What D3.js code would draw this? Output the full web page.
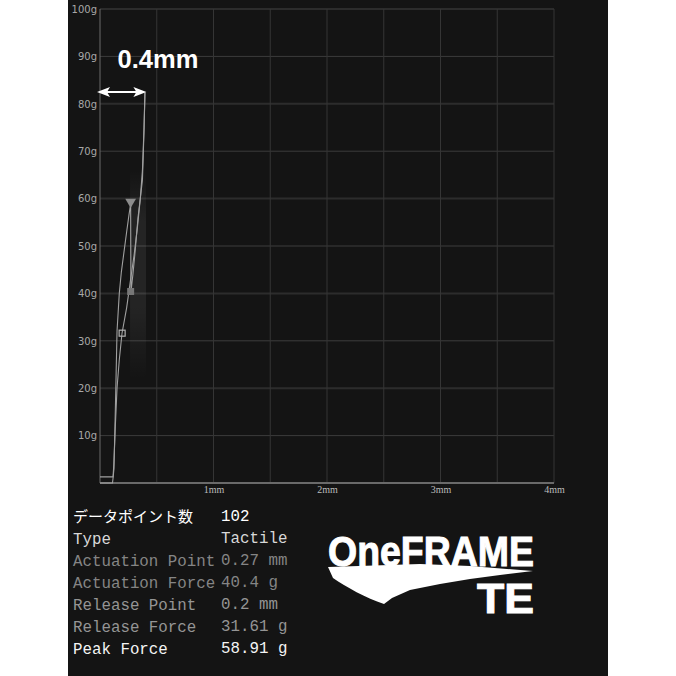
<!DOCTYPE html>
<html><head><meta charset="utf-8">
<script src="https://cdn.jsdelivr.net/npm/d3@7"></script>
<style>html,body{margin:0;padding:0;background:#fff;}svg{display:block;}</style>
</head><body>
<svg id="c" width="676" height="676"></svg>
<script>
// ---- data ----
const yTicks = [10,20,30,40,50,60,70,80,90,100];
const xTicks = [1,2,3,4];
const xGrid = [0,0.5,1,1.5,2,2.5,3,3.5,4];
const pressX = [0, 0.05, 0.11, 0.115, 0.123, 0.132, 0.141, 0.150, 0.170, 0.188, 0.21, 0.235, 0.255, 0.270, 0.271, 0.273, 0.29, 0.31, 0.335, 0.355, 0.374, 0.388, 0.396];
const pressY = [0, 0, 0, 1, 3, 12, 21.8, 32, 40, 44.5, 48.5, 53, 56.5, 58.9, 50, 40.4, 44, 49, 56, 60, 64, 74.5, 82.4];
const releaseX = [0.396, 0.388, 0.374, 0.355, 0.33, 0.30, 0.27, 0.235, 0.194, 0.17, 0.15, 0.135, 0.122, 0.115, 0.05, 0];
const releaseY = [82.4, 75, 66, 60, 54, 48, 43, 37, 31.6, 26, 20, 12, 4, 1.3, 1.3, 1.3];
const peak = {x: 0.27, y: 58.91};
const actuation = {x: 0.27, y: 40.4};
const release = {x: 0.195, y: 31.61};
const travelLabel = "0.4mm";
const travel = 0.4;
const rowLabels = ["データポイント数","Type","Actuation Point","Actuation Force","Release Point","Release Force","Peak Force"];
const rowValues = ["102","Tactile","0.27 mm","40.4 g","0.2 mm","31.61 g","58.91 g"];
const rowColors = ["#ffffff","#d8d8d8","#858585","#858585","#959595","#959595","#f4f4f4"];

// ---- drawing ----
const svg = d3.select("#c");
svg.append("rect").attr("x",68).attr("y",0).attr("width",540).attr("height",676).attr("fill","#141414");

const x = d3.scaleLinear().domain([0,4]).range([100,554]);
const y = d3.scaleLinear().domain([0,100]).range([483,9]);

const defs = svg.append("defs");
const grad = defs.append("linearGradient").attr("id","band").attr("x1",0).attr("y1",0).attr("x2",0).attr("y2",1);
grad.append("stop").attr("offset","0%").attr("stop-color","#fff").attr("stop-opacity",0.0);
grad.append("stop").attr("offset","25%").attr("stop-color","#fff").attr("stop-opacity",0.07);
grad.append("stop").attr("offset","65%").attr("stop-color","#fff").attr("stop-opacity",0.07);
grad.append("stop").attr("offset","100%").attr("stop-color","#fff").attr("stop-opacity",0.0);

// grid
const g = svg.append("g");
g.selectAll("line.h").data(yTicks).join("line")
  .attr("x1",x(0)).attr("x2",x(4)).attr("y1",d=>y(d)).attr("y2",d=>y(d))
  .attr("stroke",d=> d%20===0 ? "#2c2c2c" : "#3c3c3c")
  .attr("stroke-width",d=> d%20===0 ? 2 : 1);
g.selectAll("line.v").data(xGrid).join("line")
  .attr("x1",d=>x(d)).attr("x2",d=>x(d)).attr("y1",y(0)).attr("y2",y(100))
  .attr("stroke",d=> d===0 ? "#6a6a6a" : "#353535").attr("stroke-width",1);
g.append("line").attr("x1",x(0)).attr("x2",x(4)).attr("y1",y(0)).attr("y2",y(0))
  .attr("stroke","#6a6a6a").attr("stroke-width",2);

// y labels
svg.append("g").attr("transform",`translate(${x(0)-3},0)`)
  .call(d3.axisLeft(y).tickValues(yTicks).tickSize(0).tickPadding(0).tickFormat(d=>d+"g"))
  .call(a=>a.select(".domain").remove())
  .call(a=>a.selectAll("text").attr("fill","#a8a8a8").attr("font-family","DejaVu Sans").attr("font-size",10));
// x labels
svg.append("g").attr("transform",`translate(0,${y(0)+3})`)
  .call(d3.axisBottom(x).tickValues(xTicks).tickSize(0).tickPadding(0).tickFormat(d=>d+"mm"))
  .call(a=>a.select(".domain").remove())
  .call(a=>a.selectAll("text").attr("fill","#bcbcbc").attr("font-family","Liberation Serif").attr("font-size",10));

// shaded band
svg.append("rect").attr("x",x(0.265)).attr("y",y(66)).attr("width",x(0.405)-x(0.265)).attr("height",y(22)-y(66))
  .attr("fill","url(#band)");

// curves
const line = d3.line().x(d=>x(d[0])).y(d=>y(d[1]));
svg.append("path").attr("d",line(pressX.map((v,i)=>[v,pressY[i]])))
  .attr("fill","none").attr("stroke","#a0a0a0").attr("stroke-width",1.1);
svg.append("path").attr("d",line(releaseX.map((v,i)=>[v,releaseY[i]])))
  .attr("fill","none").attr("stroke","#a0a0a0").attr("stroke-width",1.1);

// markers
svg.append("path").attr("d",d3.symbol(d3.symbolTriangle,50)())
  .attr("transform",`translate(${x(peak.x)},${y(peak.y)-2}) rotate(180)`).attr("fill","#8c8c8c");
svg.append("rect").attr("x",x(actuation.x)-3.5).attr("y",y(actuation.y)-3.5).attr("width",7).attr("height",7).attr("fill","#777");
svg.append("rect").attr("x",x(release.x)-3).attr("y",y(release.y)-3).attr("width",6).attr("height",6)
  .attr("fill","none").attr("stroke","#b0b0b0").attr("stroke-width",1.2);

// travel arrow
const ay = y(82.5);
const ax1 = x(0)-3, ax2 = x(travel)+1;
svg.append("line").attr("x1",ax1+4).attr("x2",ax2-4).attr("y1",ay).attr("y2",ay).attr("stroke","#fff").attr("stroke-width",2);
svg.append("path").attr("d",`M${ax1},${ay} L${ax1+13},${ay-5} L${ax1+10},${ay} L${ax1+13},${ay+5} Z`).attr("fill","#fff");
svg.append("path").attr("d",`M${ax2},${ay} L${ax2-13},${ay-5} L${ax2-10},${ay} L${ax2-13},${ay+5} Z`).attr("fill","#fff");
svg.append("text").attr("x",158).attr("y",68).attr("text-anchor","middle").attr("fill","#fff")
  .attr("font-family","Liberation Sans").attr("font-weight","bold").attr("font-size",25.5).text(travelLabel);

// table
const t = svg.append("g");
t.selectAll("text.l").data(rowLabels).join("text")
  .attr("x",73).attr("y",(d,i)=>522+i*22)
  .attr("fill",(d,i)=>rowColors[i])
  .attr("font-family",(d,i)=> i===0 ? "Noto Sans CJK JP" : "Liberation Mono")
  .attr("font-size",(d,i)=> i===0 ? 15 : 15.8)
  .text(d=>d);
t.selectAll("text.v").data(rowValues).join("text")
  .attr("x",221).attr("y",(d,i)=>521+i*22)
  .attr("fill",(d,i)=>rowColors[i])
  .attr("font-family","Liberation Mono").attr("font-size",15.8)
  .text(d=>d);

// logo
const lg = svg.append("g");
lg.append("text").attr("x",328).attr("y",566).attr("fill","#fff").attr("font-family","Liberation Sans")
  .attr("font-weight","bold").attr("font-size",42).attr("textLength",206).attr("lengthAdjust","spacingAndGlyphs")
  .attr("stroke","#fff").attr("stroke-width",1).text("OneFRAME");
lg.append("path").attr("d","M328,567 L420,564 L470,566 L533,571 L500,575 L470,579 L440,584 L410,590 L392,598 L384,604 C366,598 346,587 333,578 Z").attr("fill","#fff");
lg.append("text").attr("x",477).attr("y",613).attr("fill","#fff").attr("font-family","Liberation Sans")
  .attr("font-weight","bold").attr("font-size",42).attr("textLength",57).attr("lengthAdjust","spacingAndGlyphs")
  .attr("stroke","#fff").attr("stroke-width",1).text("TE");
</script>
</body></html>
